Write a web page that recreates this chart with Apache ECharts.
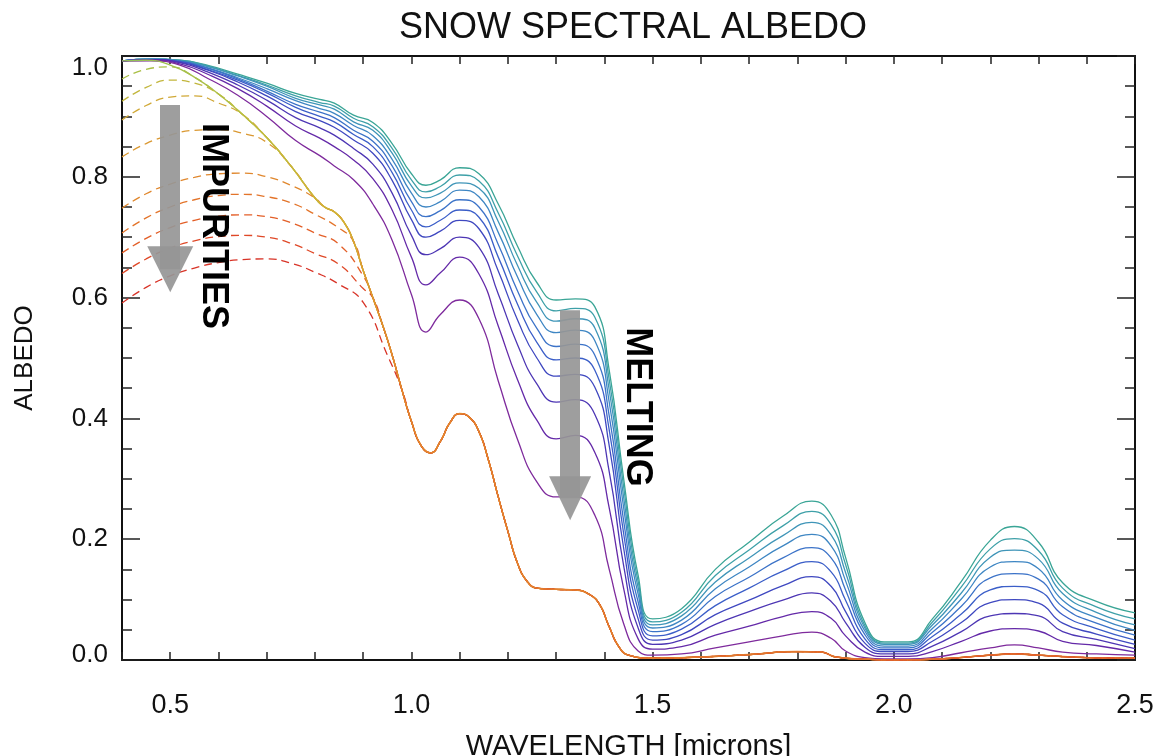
<!DOCTYPE html>
<html>
<head>
<meta charset="utf-8">
<script src="https://cdn.jsdelivr.net/npm/echarts@6/dist/echarts.min.js"></script>
<style>
  html, body { margin: 0; padding: 0; background: #fff; }
  #chart { width: 1157px; height: 756px; }
</style>
</head>
<body>
<div id="chart"></div>
<script>
// wavelength grid of the melting (grain growth) family
var wlMelt = [0.40,0.46,0.52,0.58,0.64,0.70,0.76,0.81,0.84,0.88,0.92,0.96,1.00,1.03,1.06,1.10,1.14,1.18,1.22,1.26,1.30,1.34,1.38,1.41,1.44,1.47,1.50,1.56,1.63,1.70,1.77,1.83,1.87,1.90,1.94,1.98,2.03,2.08,2.14,2.20,2.25,2.30,2.35,2.42,2.50];

// melting curves, top (teal) to bottom (purple)
var melt0 = [.992,.995,.993,.984,.970,.955,.938,.928,.922,.902,.890,.855,.805,.786,.795,.815,.805,.755,.685,.625,.596,.598,.585,.480,.300,.140,.068,.085,.150,.195,.238,.263,.240,.170,.062,.030,.030,.068,.130,.198,.221,.195,.128,.097,.078];
var melt1 = [.992,.995,.993,.983,.968,.952,.934,.923,.917,.897,.883,.847,.795,.775,.784,.803,.793,.740,.669,.609,.578,.582,.568,.464,.286,.130,.063,.079,.140,.182,.222,.246,.224,.158,.057,.028,.028,.063,.121,.184,.201,.181,.119,.088,.068];
var melt2 = [.992,.995,.992,.982,.967,.950,.930,.919,.912,.891,.877,.839,.785,.765,.773,.790,.781,.726,.653,.592,.561,.565,.550,.447,.269,.120,.058,.073,.129,.169,.206,.228,.207,.145,.053,.026,.026,.058,.111,.170,.182,.167,.110,.079,.058];
var melt3 = [.992,.995,.992,.980,.964,.946,.926,.913,.905,.885,.868,.829,.773,.750,.759,.778,.767,.708,.634,.572,.542,.546,.529,.427,.252,.109,.053,.066,.118,.154,.189,.208,.189,.131,.048,.023,.023,.052,.101,.154,.163,.151,.099,.070,.049];
var melt4 = [.992,.994,.991,.979,.962,.942,.920,.907,.898,.877,.859,.818,.759,.734,.744,.762,.750,.688,.611,.549,.519,.523,.505,.404,.230,.096,.047,.059,.105,.137,.169,.186,.169,.116,.042,.020,.020,.046,.089,.136,.143,.134,.088,.061,.041];
var melt5 = [.992,.994,.991,.977,.960,.939,.915,.900,.891,.870,.850,.807,.745,.717,.728,.745,.733,.667,.589,.526,.497,.500,.480,.381,.209,.083,.040,.051,.090,.119,.147,.163,.146,.099,.035,.017,.017,.039,.076,.116,.122,.115,.075,.052,.033];
var melt6 = [.992,.994,.990,.976,.957,.934,.908,.893,.882,.861,.839,.794,.729,.700,.710,.728,.714,.644,.563,.500,.470,.473,.452,.355,.185,.068,.033,.042,.075,.099,.123,.138,.122,.080,.028,.014,.014,.031,.062,.095,.100,.094,.061,.043,.026];
var melt7 = [.992,.994,.989,.973,.952,.927,.898,.881,.869,.847,.821,.773,.703,.671,.681,.700,.683,.606,.522,.457,.427,.431,.407,.312,.156,.053,.026,.033,.059,.080,.099,.111,.097,.062,.021,.010,.010,.023,.047,.073,.077,.073,.047,.034,.019];
var melt8 = [.992,.993,.987,.969,.946,.917,.884,.864,.850,.828,.797,.745,.667,.621,.641,.667,.639,.553,.464,.397,.366,.372,.344,.252,.118,.035,.018,.022,.041,.056,.072,.080,.069,.040,.013,.006,.006,.014,.031,.048,.052,.048,.031,.024,.013];
var melt9 = [.992,.992,.985,.962,.935,.900,.860,.835,.818,.795,.755,.695,.605,.543,.572,.596,.565,.462,.365,.295,.270,.270,.240,.150,.060,.015,.008,.010,.020,.030,.040,.046,.036,.015,.004,.002,.002,.004,.012,.020,.025,.020,.013,.010,.008];
var meltCurves = [melt0, melt1, melt2, melt3, melt4, melt5, melt6, melt7, melt8, melt9];
var meltColors = ['#3aa596','#3ea0a8','#3f95b8','#3e86c3','#3c73c8','#3b5ec8','#3f48c0','#4d36b4','#6429a8','#7e2a9c'];

// clean (no impurity) snow of the impurity family
var wlClean = [0.40,0.45,0.50,0.55,0.60,0.65,0.70,0.75,0.80,0.82,0.84,0.86,0.88,0.90,0.92,0.94,0.96,0.98,1.00,1.02,1.04,1.06,1.08,1.10,1.12,1.14,1.16,1.18,1.20,1.22,1.24,1.26,1.30,1.34,1.37,1.39,1.41,1.43,1.45,1.50,1.60,1.70,1.80,1.85,1.88,1.95,2.00,2.10,2.20,2.25,2.30,2.40,2.50];
var albClean = [.992,.993,.985,.965,.937,.903,.865,.818,.765,.750,.742,.725,.693,.645,.600,.555,.505,.448,.395,.355,.343,.362,.393,.408,.402,.378,.330,.270,.213,.160,.130,.119,.117,.116,.108,.092,.055,.022,.008,.003,.005,.009,.014,.013,.005,.001,.000,.002,.008,.010,.008,.004,.003];

// dirty snow (dashed), only the part before they join the clean curve
var wlImp = [0.40,0.45,0.50,0.55,0.60,0.65,0.70,0.75,0.80,0.85,0.90,0.95];
var imp1 = [.962,.978,.982];
var imp2 = [.925,.948,.960,.955];
var imp3 = [.894,.918,.932,.934,.922];
var imp4 = [.833,.855,.869,.877,.878,.872,.857];
var imp5 = [.748,.772,.788,.799,.805,.806,.800,.786];
var imp6 = [.707,.732,.750,.762,.769,.771,.767,.757,.738,.715];
var imp7 = [.674,.698,.716,.728,.735,.737,.734,.724,.707,.688,.636];
var imp8 = [.640,.664,.682,.694,.701,.703,.700,.690,.673,.655,.615];
var imp9 = [.591,.617,.636,.649,.658,.663,.664,.657,.642,.622,.592,.505];
var impCurves = [imp1, imp2, imp3, imp4, imp5, imp6, imp7, imp8, imp9];
var impColors = ['#a9bf45','#c2b63c','#d0a836','#da9831','#e0872d','#e3742a','#e35f28','#df4827','#d83327'];

var FONT = '"Liberation Sans", Arial, Helvetica, sans-serif';

function pairs(xs, ys) {
	var out = [];
	for (var i = 0; i < ys.length; i++) {
		out.push([xs[i], ys[i]]);
	}
	return out;
}

// dirty curve: own points, then the clean curve once they merged
function impData(vals) {
	var out = pairs(wlImp, vals);
	var last = wlImp[vals.length - 1];
	for (var i = 0; i < wlClean.length; i++) {
		if (wlClean[i] > last + 0.015) out.push([wlClean[i], albClean[i]]);
	}
	return out;
}

var series = [];
for (var m = 0; m < meltCurves.length; m++) {
	series.push({
		type: 'line',
		data: pairs(wlMelt, meltCurves[m]),
		showSymbol: false,
		smooth: 0.5,
		lineStyle: { color: meltColors[m], width: 1.3 },
		z: 2
	});
}
for (var k = 0; k < impCurves.length; k++) {
	series.push({
		type: 'line',
		data: impData(impCurves[k]),
		showSymbol: false,
		smooth: 0.5,
		lineStyle: { color: impColors[k], width: 1.3, type: [8, 5] },
		z: 3
	});
}
// clean curve on top: yellow-green that turns orange where the dirty ones join it
series.push({
	type: 'line',
	data: pairs(wlClean, albClean),
	showSymbol: false,
	smooth: 0.5,
	lineStyle: {
		width: 1.4,
		color: new echarts.graphic.LinearGradient(0, 0, 1, 0, [
			{ offset: 0, color: '#8fc05a' },
			{ offset: 0.12, color: '#b9c040' },
			{ offset: 0.22, color: '#d4b233' },
			{ offset: 0.28, color: '#e58a2e' },
			{ offset: 1, color: '#e0662c' }
		])
	},
	z: 4
});
// grey arrows
series.push({
	type: 'line',
	data: [],
	z: 6,
	markLine: {
		silent: true,
		symbol: ['none', 'triangle'],
		label: { show: false },
		emphasis: { disabled: true },
		lineStyle: { color: 'rgba(150,150,150,0.92)', width: 20, type: 'solid' },
		data: [
			[{ coord: [0.5, 0.919], symbolSize: 0 }, { coord: [0.5, 0.647], symbolSize: [46, 46] }],
			[{ coord: [1.329, 0.579], symbolSize: 0 }, { coord: [1.329, 0.268], symbolSize: [42, 44] }]
		]
	}
});

var axisLine = { onZero: false, lineStyle: { color: '#111', width: 2 } };

function xLabel(v) {
	return Math.abs(v * 2 - Math.round(v * 2)) < 1e-6 ? v.toFixed(1) : '';
}

// end labels sit a little inside the frame, as in the original plot
function yLabel(v) {
	if (v > 0.99) return '{top|' + v.toFixed(1) + '}';
	if (v < 0.01) return '{bot|' + v.toFixed(1) + '}';
	return v.toFixed(1);
}

var option = {
	animation: false,
	backgroundColor: '#fff',
	title: {
		text: 'SNOW SPECTRAL ALBEDO',
		left: 628,
		top: 5,
		textAlign: 'center',
		textStyle: { fontFamily: FONT, fontSize: 36, fontWeight: 'normal', color: '#111' }
	},
	grid: { left: 122, top: 56, right: 22, bottom: 96, outerBoundsMode: 'none', containLabel: false },
	xAxis: [
		{
			type: 'value', min: 0.4, max: 2.5, interval: 0.1, position: 'bottom',
			name: 'WAVELENGTH [microns]', nameLocation: 'middle', nameGap: 72,
			nameTextStyle: { fontFamily: FONT, fontSize: 29, color: '#111' },
			axisLine: axisLine,
			axisTick: { inside: true, length: 8, lineStyle: { color: '#222', width: 1.5 } },
			axisLabel: { margin: 32, fontFamily: FONT, fontSize: 27, color: '#111', formatter: xLabel, showMaxLabel: true },
			splitLine: { show: false }
		},
		{
			type: 'value', min: 0.4, max: 2.5, interval: 0.1, position: 'top',
			axisLine: axisLine,
			axisTick: { inside: true, length: 8, lineStyle: { color: '#222', width: 1.5 } },
			axisLabel: { show: false },
			splitLine: { show: false }
		}
	],
	yAxis: [
		{
			type: 'value', min: 0, max: 1, interval: 0.2, position: 'left',
			name: 'ALBEDO', nameLocation: 'middle', nameGap: 84, nameRotate: 90,
			nameTextStyle: { fontFamily: FONT, fontSize: 26, color: '#111' },
			axisLine: axisLine,
			axisTick: { inside: true, length: 18, lineStyle: { color: '#222', width: 1.5 } },
			minorTick: { show: true, splitNumber: 4, length: 10, lineStyle: { color: '#222', width: 1.5 } },
			axisLabel: {
				margin: 14, fontFamily: FONT, fontSize: 26, color: '#111', formatter: yLabel,
				rich: {
					top: { fontFamily: FONT, fontSize: 26, color: '#111', padding: [24, 0, 0, 0] },
					bot: { fontFamily: FONT, fontSize: 26, color: '#111', padding: [0, 0, 10, 0] }
				}
			},
			splitLine: { show: false }
		},
		{
			type: 'value', min: 0, max: 1, interval: 0.2, position: 'right',
			axisLine: axisLine,
			axisTick: { inside: true, length: 18, lineStyle: { color: '#222', width: 1.5 } },
			minorTick: { show: true, splitNumber: 4, length: 10, lineStyle: { color: '#222', width: 1.5 } },
			axisLabel: { show: false },
			splitLine: { show: false }
		}
	],
	graphic: [
		{
			type: 'text', x: 213, y: 226, rotation: -Math.PI / 2, z: 10,
			style: { text: 'IMPURITIES', font: 'bold 36px ' + FONT, fill: '#000', align: 'center', verticalAlign: 'middle' }
		},
		{
			type: 'text', x: 637, y: 407, rotation: -Math.PI / 2, z: 10,
			style: { text: 'MELTING', font: 'bold 36px ' + FONT, fill: '#000', align: 'center', verticalAlign: 'middle' }
		}
	],
	series: series
};

var chart = echarts.init(document.getElementById('chart'));
chart.setOption(option);
</script>
</body>
</html>
